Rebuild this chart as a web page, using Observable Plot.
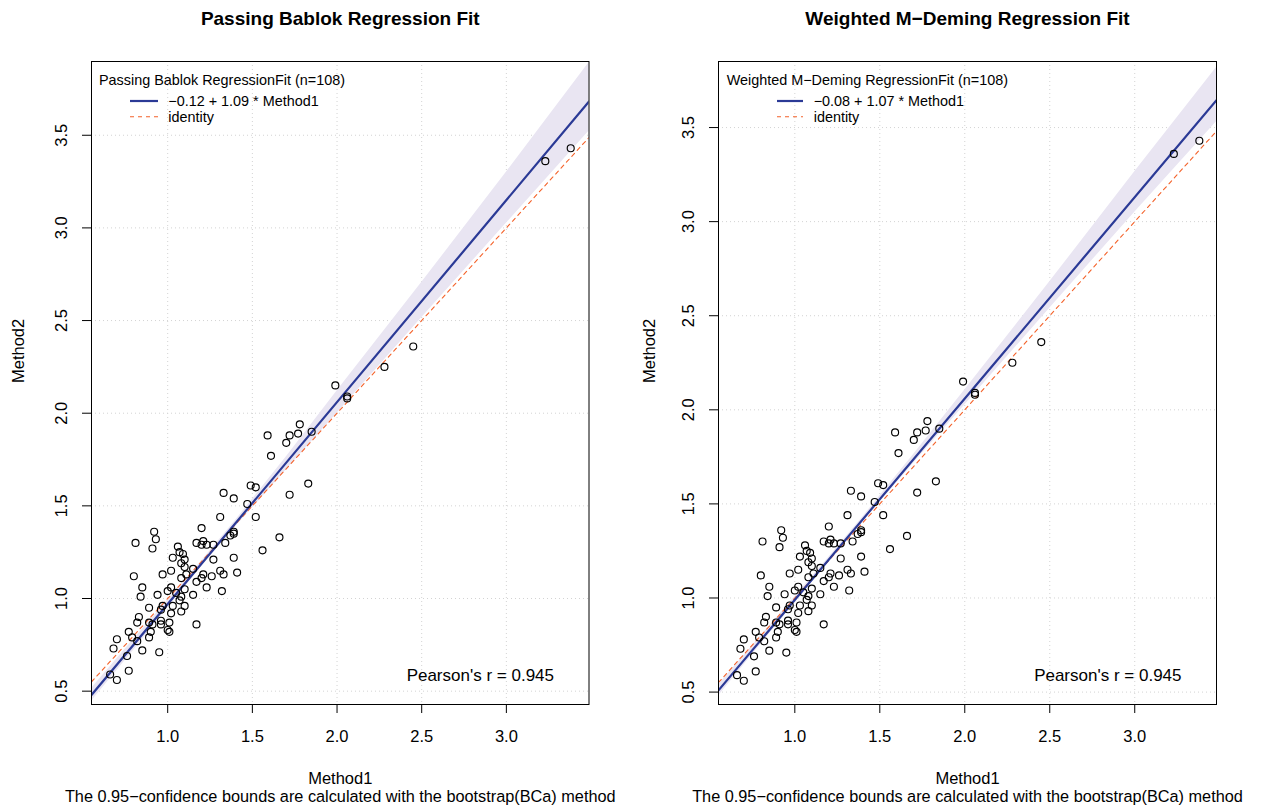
<!DOCTYPE html>
<html>
<head>
<meta charset="utf-8">
<script src="https://cdn.jsdelivr.net/npm/d3@7"></script>
<script src="https://cdn.jsdelivr.net/npm/@observablehq/plot@0.6"></script>
<style>
  body { margin: 0; background: #fff; }
  #wrap { position: relative; width: 1262px; height: 807px; overflow: hidden; background: #fff;
          font-family: "Liberation Sans", Arial, Helvetica, sans-serif; }
  .panel { position: absolute; top: 0; width: 631px; height: 807px; }
  .panel svg.overlay { position: absolute; left: 0; top: 0; pointer-events: none; }
</style>
</head>
<body>
<div id="wrap"></div>
<script>
// ---------------- data ----------------
const method1 = [3.23,3.38,2.45,2.28,2.06,2.06,1.99,1.78,1.72,1.77,1.70,1.85,1.83,1.72,1.59,1.61,1.49,1.52,1.33,1.39,
  1.47,1.52,1.31,1.20,1.39,1.39,1.37,1.66,1.56,0.92,0.93,0.81,0.91,1.17,1.21,1.23,1.20,1.27,1.34,1.06,
  1.07,1.09,1.03,1.10,1.08,1.10,1.15,1.27,1.39,1.41,1.31,1.33,1.26,1.21,1.20,1.17,1.23,1.32,1.15,1.11,
  1.08,1.02,0.97,0.80,0.85,0.84,0.94,1.00,1.02,1.10,1.08,1.07,1.10,1.08,1.03,1.02,1.05,0.97,0.96,0.89,
  0.83,0.82,0.89,0.91,0.96,0.96,1.01,1.00,1.01,0.90,0.89,0.77,0.79,0.82,0.70,0.68,0.85,0.95,0.76,0.77,
  0.66,0.70,1.17];
const method2 = [3.36,3.43,2.36,2.25,2.09,2.08,2.15,1.94,1.88,1.89,1.84,1.90,1.62,1.56,1.88,1.77,1.61,1.60,1.57,1.54,
  1.51,1.44,1.44,1.38,1.36,1.35,1.34,1.33,1.26,1.36,1.32,1.30,1.27,1.30,1.31,1.29,1.29,1.29,1.30,1.28,
  1.25,1.24,1.22,1.21,1.19,1.17,1.16,1.21,1.22,1.14,1.15,1.13,1.12,1.13,1.11,1.09,1.06,1.04,1.02,1.13,
  1.11,1.15,1.13,1.12,1.06,1.01,1.02,1.04,1.06,1.05,1.01,0.99,0.96,0.93,0.96,0.92,1.03,0.96,0.94,0.95,
  0.90,0.87,0.87,0.86,0.88,0.86,0.87,0.83,0.82,0.82,0.79,0.82,0.79,0.77,0.78,0.73,0.72,0.71,0.69,0.61,
  0.59,0.56,0.86];

const xTicks = [1.0, 1.5, 2.0, 2.5, 3.0];
const yTicks = [0.5, 1.0, 1.5, 2.0, 2.5, 3.0, 3.5];

// confidence bands
const bandX   = [0.55, 0.8, 1.0, 1.2, 1.4, 1.7, 2.0, 2.5, 3.0, 3.49];
const pbLower = [0.445, 0.722, 0.950, 1.173, 1.386, 1.693, 2.000, 2.515, 3.025, 3.524];
const pbUpper = [0.515, 0.782, 0.990, 1.203, 1.421, 1.763, 2.120, 2.705, 3.300, 3.894];
const dmLower = [0.4785, 0.754, 0.973, 1.191, 1.405, 1.717, 2.025, 2.540, 3.050, 3.540];
const dmUpper = [0.5385, 0.798, 1.007, 1.217, 1.431, 1.764, 2.105, 2.680, 3.265, 3.830];

const panelTitles  = ["Passing Bablok Regression Fit", "Weighted M\u2212Deming Regression Fit"];
const legendTitles = ["Passing Bablok RegressionFit (n=108)", "Weighted M\u2212Deming RegressionFit (n=108)"];
const fitLabels    = ["\u22120.12 + 1.09 * Method1", "\u22120.08 + 1.07 * Method1"];
const identityLabel = "identity";
const intercepts = [-0.12, -0.08];
const slopes     = [1.09, 1.07];
const pearsonLabel = "Pearson's r = 0.945";
const xLabel = "Method1";
const yLabel = "Method2";
const caption = "The 0.95\u2212confidence bounds are calculated with the bootstrap(BCa) method";

// ---------------- layout ----------------
const FONT = '"Liberation Sans", Arial, Helvetica, sans-serif';
const panels = [
  { left: 0,   ml: 91, mr: 42.5, xDomain: [0.55, 3.488], yDomain: [0.428, 3.898], lower: pbLower, upper: pbUpper,
    leg: { tx: 99, sx1: 130, sx2: 158, lx: 168.3 } },
  { left: 631, ml: 87, mr: 46,   xDomain: [0.551, 3.481], yDomain: [0.434, 3.851], lower: dmLower, upper: dmUpper,
    leg: { tx: 95.7, sx1: 146, sx2: 172, lx: 182.7 } }
];
const REG_COL = "#2B3A96";
const ID_COL = "#F4622A";
const BAND_COL = "#E9E5F2";

const wrap = document.getElementById("wrap");

panels.forEach((p, k) => {
  const pts = method1.map((m, i) => ({ x: m, y: method2[i] }));
  const band = bandX.map((x, i) => ({ x, lo: p.lower[i], hi: p.upper[i] }));
  const fit = p.xDomain.map(x => ({ x, y: intercepts[k] + slopes[k] * x }));
  const ident = p.xDomain.map(x => ({ x, y: x }));

  const chart = Plot.plot({
    width: 631, height: 807,
    marginLeft: p.ml, marginRight: p.mr, marginTop: 61, marginBottom: 103,
    x: { domain: p.xDomain },
    y: { domain: p.yDomain },
    style: { fontFamily: FONT, fontSize: "16.5px", color: "black", background: "white", overflow: "visible" },
    marks: [
      Plot.gridX(xTicks, { stroke: "#d3d3d3", strokeOpacity: 1, strokeDasharray: "1,3" }),
      Plot.gridY(yTicks, { stroke: "#d3d3d3", strokeOpacity: 1, strokeDasharray: "1,3" }),
      Plot.areaY(band, { x: "x", y1: "lo", y2: "hi", fill: BAND_COL, clip: true }),
      Plot.line(ident, { x: "x", y: "y", stroke: ID_COL, strokeWidth: 1.1, strokeDasharray: "4,4", clip: true }),
      Plot.line(fit, { x: "x", y: "y", stroke: REG_COL, strokeWidth: 2.2, clip: true }),
      Plot.dot(pts, { x: "x", y: "y", r: 3.5, stroke: "black", strokeWidth: 1.15, fill: "none" }),
      Plot.frame({ stroke: "black", strokeWidth: 1 }),
      Plot.axisX(xTicks, { tickSize: 9, tickPadding: 17, tickFormat: d => d.toFixed(1), label: null, fontSize: 16.5 }),
      Plot.axisY(yTicks, { tickSize: 9, tickPadding: 16, tickRotate: -90, tickFormat: d => d.toFixed(1), label: null, fontSize: 16.5 }),
      Plot.text([xLabel], { text: d => d, frameAnchor: "bottom", dy: 79, lineAnchor: "bottom", fontSize: 16.5 }),
      Plot.text([caption], { text: d => d, frameAnchor: "bottom", dy: 97, lineAnchor: "bottom", fontSize: 16.3 }),
      Plot.text([yLabel], { text: d => d, frameAnchor: "left", dx: 18 - p.ml, rotate: -90, lineAnchor: "middle", fontSize: 16.5 }),
      Plot.text([panelTitles[k]], { text: d => d, frameAnchor: "top", dy: -37, lineAnchor: "bottom", fontWeight: "bold", fontSize: 19 }),
      Plot.text([pearsonLabel], { text: d => d, frameAnchor: "bottom-right", dx: -35, dy: -24, textAnchor: "end", lineAnchor: "bottom", fontSize: 17 })
    ]
  });

  const div = document.createElement("div");
  div.className = "panel";
  div.style.left = p.left + "px";
  div.appendChild(chart);
  wrap.appendChild(div);

  // legend (top-left, inside the plot box)
  const svg = d3.select(div).append("svg").attr("class", "overlay")
    .attr("width", 631).attr("height", 807)
    .style("font-family", FONT).style("font-size", "14.4px");
  svg.append("text").attr("x", p.leg.tx).attr("y", 85).text(legendTitles[k]);
  svg.append("line").attr("x1", p.leg.sx1).attr("x2", p.leg.sx2).attr("y1", 101).attr("y2", 101)
    .attr("stroke", REG_COL).attr("stroke-width", 2.2);
  svg.append("text").attr("x", p.leg.lx).attr("y", 106).text(fitLabels[k]);
  svg.append("line").attr("x1", p.leg.sx1).attr("x2", p.leg.sx2).attr("y1", 116.7).attr("y2", 116.7)
    .attr("stroke", ID_COL).attr("stroke-width", 1.1).attr("stroke-dasharray", "4,4");
  svg.append("text").attr("x", p.leg.lx).attr("y", 121.5).text(identityLabel);
});
</script>
</body>
</html>
